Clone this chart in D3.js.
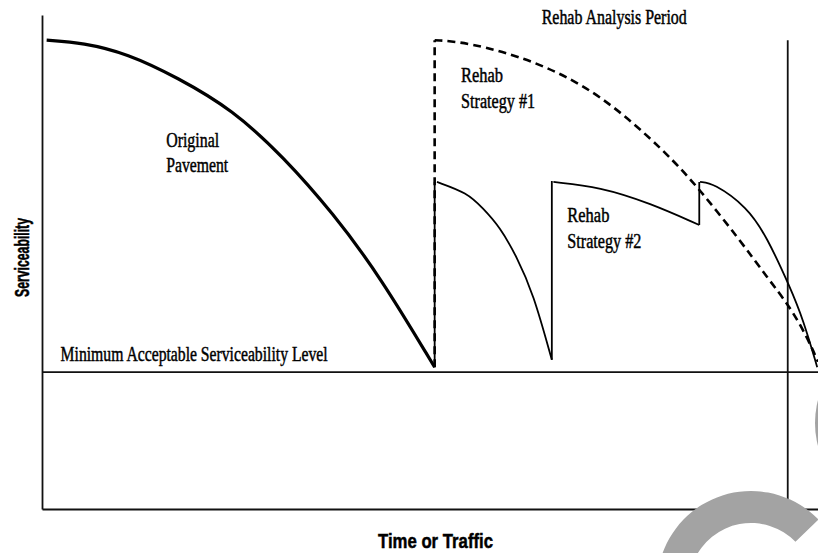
<!DOCTYPE html>
<html>
<head>
<meta charset="utf-8">
<script src="https://cdn.jsdelivr.net/npm/d3@7"></script>
<style>
  html, body { margin: 0; padding: 0; background: #fff; }
  svg { display: block; }
  .serif { font-family: "Liberation Serif", "Times New Roman", serif; font-size: 20px; fill: #000; stroke: #000; stroke-width: 0.45px; }
  .axis-title { font-family: "Liberation Sans", Arial, sans-serif; font-weight: bold; fill: #000; stroke: #000; stroke-width: 0.5px; }
</style>
</head>
<body>
<svg id="chart" width="818" height="553"></svg>
<script>
// Serviceability vs time; x and y are in arbitrary units (0-100), no tick labels in the figure
const minLevel = 27.7;
const analysisEnd = 96.1;

const original = [
  [0.6, 94.9], [5.3, 94.4], [11.0, 92.2], [17.4, 87.4], [24.6, 80.8],
  [31.1, 71.3], [37.5, 59.9], [43.6, 47.0], [50.6, 28.7]
];

// Rehab strategy #1: one big overlay (dashed)
const strategy1 = [
  [[50.6, 28.7], [50.6, 94.9]],
  [[50.6, 94.9], [54.8, 94.5], [63.3, 90.9], [71.9, 84.2], [80.5, 72.1],
   [84.8, 64.6], [89.9, 54.5], [93.4, 47.0], [96.4, 40.9], [98.6, 34.8], [100, 29.8]]
];

// Rehab strategy #2: repeated thinner overlays (solid)
const strategy2 = [
  [[50.6, 28.7], [50.6, 66.2]],
  [[50.9, 66.2], [54.8, 64.0], [56.8, 60.9], [59.0, 57.1], [61.2, 51.0], [63.3, 43.7], [65.7, 30.2]],
  [[65.7, 30.2], [65.7, 66.4]],
  [[65.9, 66.2], [71.9, 65.2], [78.4, 61.9], [84.7, 57.5]],
  [[84.7, 57.5], [84.7, 66.2]],
  [[84.8, 66.2], [86.5, 66.0], [90.9, 61.1], [93.4, 55.1], [96.4, 44.9], [98.1, 38.3], [99.9, 28.7]]
];

const labels = [
  { text: 'Rehab Analysis Period', x: 64.4, y: 98.2, len: 145 },
  { text: 'Original', x: 16.0, y: 73.3, len: 53 },
  { text: 'Pavement', x: 16.0, y: 68.2, len: 62 },
  { text: 'Rehab', x: 54.0, y: 86.4, len: 42 },
  { text: 'Strategy #1', x: 54.0, y: 81.2, len: 74 },
  { text: 'Rehab', x: 67.7, y: 58.1, len: 42 },
  { text: 'Strategy #2', x: 67.7, y: 52.8, len: 74 },
  { text: 'Minimum Acceptable Serviceability Level', x: 2.4, y: 29.9, len: 267 }
];

const svg = d3.select('#chart');
const W = 818, H = 553;
const margin = { top: 15, right: 0, bottom: 44, left: 42 };

const x = d3.scaleLinear().domain([0, 100]).range([margin.left, W - margin.right]);
const y = d3.scaleLinear().domain([0, 100]).range([H - margin.bottom, margin.top]);

// axes, no ticks
svg.append('g')
  .attr('transform', `translate(${margin.left},0)`)
  .call(d3.axisLeft(y).tickValues([]).tickSizeOuter(0))
  .select('.domain').attr('stroke', '#111').attr('stroke-width', 1.8);
svg.append('g')
  .attr('transform', `translate(0,${H - margin.bottom})`)
  .call(d3.axisBottom(x).tickValues([]).tickSizeOuter(0))
  .select('.domain').attr('stroke', '#111').attr('stroke-width', 2);

// minimum acceptable level + end of analysis period
svg.append('line')
  .attr('x1', x(0)).attr('x2', x(100))
  .attr('y1', y(minLevel)).attr('y2', y(minLevel))
  .attr('stroke', '#111').attr('stroke-width', 1.6);
svg.append('line')
  .attr('x1', x(analysisEnd)).attr('x2', x(analysisEnd))
  .attr('y1', y(94.9)).attr('y2', y(0))
  .attr('stroke', '#111').attr('stroke-width', 1.8);

const smooth = d3.line().x(d => x(d[0])).y(d => y(d[1])).curve(d3.curveBasis);
const straight = d3.line().x(d => x(d[0])).y(d => y(d[1]));
const gen = pts => (pts.length > 2 ? smooth : straight)(pts);

svg.append('path')
  .attr('d', smooth(original))
  .attr('fill', 'none').attr('stroke', '#000').attr('stroke-width', 3.2);

svg.append('g').selectAll('path').data(strategy2).join('path')
  .attr('d', gen)
  .attr('fill', 'none').attr('stroke', '#000').attr('stroke-width', 1.8);

svg.append('g').selectAll('path').data(strategy1).join('path')
  .attr('d', gen)
  .attr('fill', 'none').attr('stroke', '#000').attr('stroke-width', 2.6)
  .attr('stroke-dasharray', '8,5');

svg.append('g').selectAll('text').data(labels).join('text')
  .attr('class', 'serif')
  .attr('x', d => x(d.x)).attr('y', d => y(d.y))
  .attr('textLength', d => d.len)
  .attr('lengthAdjust', 'spacingAndGlyphs')
  .text(d => d.text);

// axis titles
svg.append('text')
  .attr('class', 'axis-title')
  .attr('transform', 'translate(29,297) rotate(-90)')
  .attr('font-size', 21)
  .attr('textLength', 79).attr('lengthAdjust', 'spacingAndGlyphs')
  .text('Serviceability');
svg.append('text')
  .attr('class', 'axis-title')
  .attr('x', 378).attr('y', 548)
  .attr('font-size', 21)
  .attr('textLength', 115).attr('lengthAdjust', 'spacingAndGlyphs')
  .text('Time or Traffic');

// grey overlay badge seen in the corner of the scan
svg.append('path')
  .attr('transform', 'translate(751,585)')
  .attr('d', d3.arc()({ innerRadius: 62, outerRadius: 94, startAngle: -Math.PI, endAngle: 0.8 }))
  .attr('fill', '#a3a3a3');
svg.append('circle')
  .attr('cx', 905).attr('cy', 423).attr('r', 90)
  .attr('fill', '#a3a3a3');
</script>
</body>
</html>
